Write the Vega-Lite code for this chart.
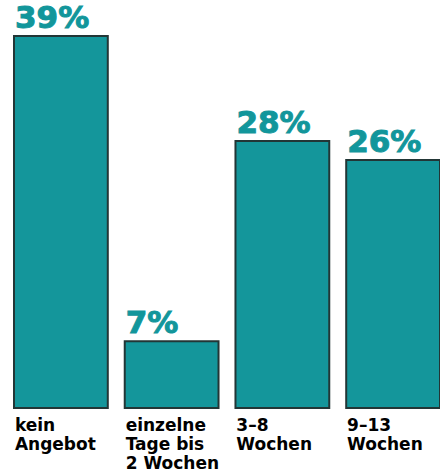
{
  "$schema": "https://vega.github.io/schema/vega-lite/v6.json",
  "autosize": "none",
  "width": 426,
  "height": 372,
  "padding": {"left": 14, "top": 36, "right": 0, "bottom": 64},
  "background": "white",
  "config": {"view": {"stroke": null}},
  "data": {"values": [
    {"Kategorie": "kein|Angebot", "Anteil": 39, "Label": "39%"},
    {"Kategorie": "einzelne|Tage bis|2 Wochen", "Anteil": 7, "Label": "7%"},
    {"Kategorie": "3–8|Wochen", "Anteil": 28, "Label": "28%"},
    {"Kategorie": "9–13|Wochen", "Anteil": 26, "Label": "26%"}
  ]},
  "encoding": {
    "x": {
      "field": "Kategorie", "type": "nominal", "sort": null,
      "scale": {"paddingInner": 0.153, "paddingOuter": 0},
      "axis": {
        "title": null, "domain": false, "ticks": false, "grid": false,
        "labelAlign": "left", "labelAngle": 0, "labelOffset": -46,
        "labelBaseline": "top", "labelPadding": 9,
        "labelExpr": "split(datum.value, '|')",
        "labelFont": "DejaVu Sans", "labelFontWeight": "bold",
        "labelFontSize": 17, "labelLineHeight": 19, "labelColor": "#000000",
        "labelLimit": 0, "labelOverlap": false
      }
    },
    "y": {
      "field": "Anteil", "type": "quantitative",
      "scale": {"domain": [0, 39], "nice": false, "zero": true},
      "axis": null
    }
  },
  "layer": [
    {
      "mark": {"type": "bar", "color": "#14969b", "stroke": "#223636", "strokeWidth": 2}
    },
    {
      "mark": {"type": "text", "align": "left", "baseline": "alphabetic", "dy": -8, "dx": 1,
               "font": "DejaVu Sans", "fontWeight": "bold", "fontSize": 31, "color": "#12969b",
               "stroke": "#12969b", "strokeWidth": 1},
      "encoding": {
        "x": {"field": "Kategorie", "type": "nominal", "sort": null, "bandPosition": 0},
        "text": {"field": "Label"}
      }
    }
  ]
}
